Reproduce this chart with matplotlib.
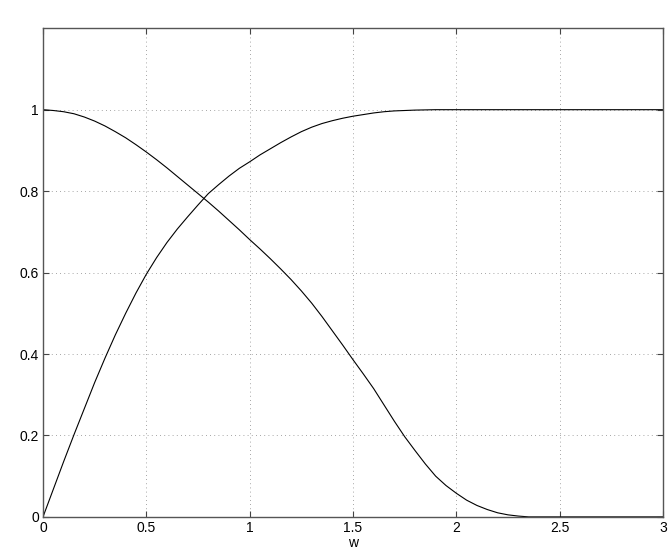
import matplotlib
matplotlib.use("Agg")
from matplotlib import pyplot as plt

plt.rcParams['font.family'] = ['Liberation Sans', 'DejaVu Sans']

# decreasing curve
w_a = [0, 0.05, 0.1, 0.15, 0.2, 0.25, 0.3, 0.35, 0.4, 0.45, 0.5, 0.55, 0.6,
       0.65, 0.7, 0.75, 0.8, 0.85, 0.9, 0.95, 1.0, 1.05, 1.1, 1.15, 1.2,
       1.25, 1.3, 1.35, 1.4, 1.45, 1.5, 1.55, 1.6, 1.65, 1.7, 1.75, 1.8,
       1.85, 1.9, 1.95, 2.0, 2.05, 2.1, 2.15, 2.2, 2.25, 2.3, 2.35, 3.0]
y_a = [1.000, 0.998, 0.995, 0.990, 0.982, 0.972, 0.960, 0.946, 0.931, 0.914,
       0.896, 0.877, 0.857, 0.836, 0.815, 0.794, 0.773, 0.751, 0.728, 0.705,
       0.681, 0.658, 0.634, 0.609, 0.583, 0.555, 0.525, 0.492, 0.457, 0.422,
       0.386, 0.351, 0.315, 0.275, 0.235, 0.197, 0.163, 0.130, 0.100, 0.077,
       0.058, 0.041, 0.028, 0.018, 0.010, 0.005, 0.002, 0.0, 0.0]

# increasing curve
w_b = [0, 0.05, 0.1, 0.15, 0.2, 0.25, 0.3, 0.35, 0.4, 0.45, 0.5, 0.55, 0.6,
       0.65, 0.7, 0.75, 0.8, 0.85, 0.9, 0.95, 1.0, 1.05, 1.1, 1.15, 1.2,
       1.25, 1.3, 1.35, 1.4, 1.45, 1.5, 1.55, 1.6, 1.65, 1.7, 1.75, 1.8,
       1.9, 3.0]
y_b = [0.0, 0.068, 0.136, 0.202, 0.266, 0.330, 0.390, 0.447, 0.500, 0.550,
       0.596, 0.637, 0.674, 0.707, 0.737, 0.766, 0.794, 0.816, 0.837, 0.856,
       0.872, 0.889, 0.904, 0.919, 0.933, 0.946, 0.957, 0.966, 0.973, 0.979,
       0.984, 0.988, 0.992, 0.995, 0.997, 0.998, 0.999, 1.0, 1.0]

xticks = [0, 0.5, 1, 1.5, 2, 2.5, 3]
xticklabels = ['0', '0.5', '1', '1.5', '2', '2.5', '3']
yticks = [0, 0.2, 0.4, 0.6, 0.8, 1]
yticklabels = ['0', '0.2', '0.4', '0.6', '0.8', '1']

fig = plt.figure(figsize=(6.72, 5.54), dpi=100)
ax = fig.add_axes([0.064, 0.067, 0.9226, 0.882])

ax.plot(w_a, y_a, color='black', lw=0.8)
ax.plot(w_b, y_b, color='black', lw=0.8)

ax.set_xlim(0, 3)
ax.set_ylim(0, 1.2)
ax.set_xticks(xticks)
ax.set_xticklabels(xticklabels)
ax.set_yticks(yticks)
ax.set_yticklabels(yticklabels)
ax.tick_params(direction='in', top=True, right=True, labelsize=10,
               length=4, width=0.8, color='#444444', pad=3)
for s in ax.spines.values():
    s.set_color('#555555')
    s.set_linewidth(1.0)
ax.grid(True, color='#888888', linestyle=(0, (1, 4)), linewidth=0.6)
ax.set_xlabel('w', fontsize=10, labelpad=1)

fig.savefig('out.png', dpi=100)
